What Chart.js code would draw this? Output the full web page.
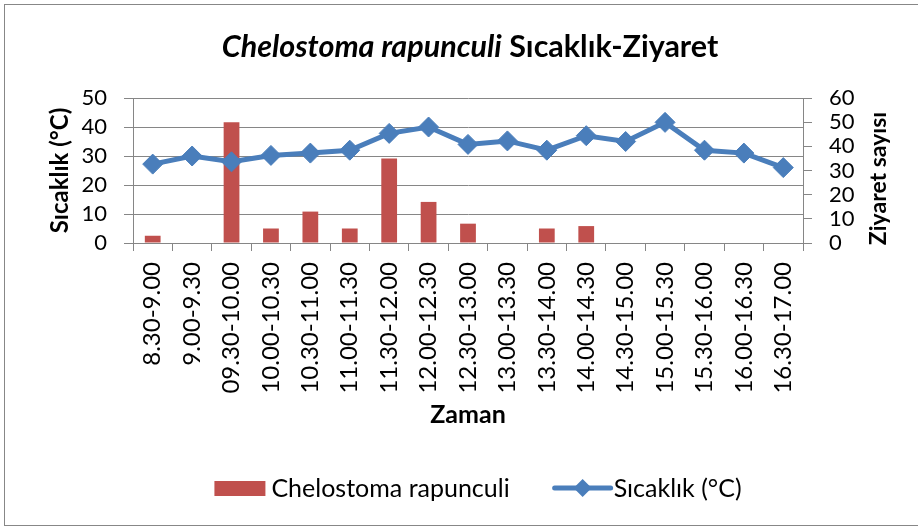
<!DOCTYPE html>
<html>
<head>
<meta charset="utf-8">
<script src="https://cdn.jsdelivr.net/npm/chart.js@4.4.1/dist/chart.umd.min.js"></script>
<style>
  html, body { margin: 0; padding: 0; background: #fff; }
  #wrap { position: relative; width: 918px; height: 531px; overflow: hidden; }
  #frame { position: absolute; left: 4px; top: 4px; width: 940px; height: 522px; border: 1px solid #878787; box-sizing: border-box; }
  #myChart { position: absolute; left: 0; top: 0; }
</style>
</head>
<body>
<div id="wrap">
  <div id="frame"></div>
  <canvas id="myChart" width="918" height="531"></canvas>
</div>
<script>
// zaman aralıkları
const categories = ['8.30-9.00', '9.00-9.30', '09.30-10.00', '10.00-10.30', '10.30-11.00', '11.00-11.30',
  '11.30-12.00', '12.00-12.30', '12.30-13.00', '13.00-13.30', '13.30-14.00', '14.00-14.30',
  '14.30-15.00', '15.00-15.30', '15.30-16.00', '16.00-16.30', '16.30-17.00'];
// ziyaret sayısı (sağ eksen)
const visits = [3, 0, 50, 6, 13, 6, 35, 17, 8, 0, 6, 7, 0, 0, 0, 0, 0];
// sıcaklık °C (sol eksen)
const temps = [27.2, 30, 28, 30.2, 31, 32, 37.8, 40, 34, 35.2, 32, 37, 35, 41.6, 32, 31, 26];

const leftTicks = [0, 10, 20, 30, 40, 50];
const rightTicks = [0, 10, 20, 30, 40, 50, 60];

const FONT = 'Lato';
const GRID = '#868686';
const RED = '#c0504d';
const BLUE = '#4a7ebb';

// başlık, lejant ve sağ eksen başlığı
const extras = {
  id: 'extras',
  afterDraw(chart) {
    const ctx = chart.ctx;
    const area = chart.chartArea;
    const cx = (area.left + area.right) / 2;
    ctx.save();
    ctx.fillStyle = '#000';
    ctx.textBaseline = 'alphabetic';
    ctx.textAlign = 'left';

    // başlık
    const t1 = 'Chelostoma rapunculi';
    const t2 = ' Sıcaklık-Ziyaret';
    ctx.font = 'italic bold 30.5px ' + FONT;
    const w1 = ctx.measureText(t1).width;
    ctx.font = 'bold 30.5px ' + FONT;
    const w2 = ctx.measureText(t2).width;
    let x = cx + 2 - (w1 + w2) / 2;
    ctx.font = 'italic bold 30.5px ' + FONT;
    ctx.fillText(t1, x, 57);
    ctx.font = 'bold 30.5px ' + FONT;
    ctx.fillText(t2, x + w1, 57);

    // sağ eksen başlığı
    const y1 = chart.scales.y1;
    ctx.save();
    ctx.translate(879, (y1.top + y1.bottom) / 2 + 8);
    ctx.rotate(-Math.PI / 2);
    ctx.textAlign = 'center';
    ctx.textBaseline = 'middle';
    ctx.font = 'bold 23px ' + FONT;
    ctx.fillText('Ziyaret sayısı', 0, 0);
    ctx.restore();

    // lejant
    ctx.font = '25px ' + FONT;
    const l1 = chart.data.datasets[1].label;
    const l2 = chart.data.datasets[0].label;
    const lw1 = ctx.measureText(l1).width;
    const lw2 = ctx.measureText(l2).width;
    const total = 51 + 6 + lw1 + 45 + 56 + 3 + lw2;
    let lx = cx + 10 - total / 2;
    const ly = 488;
    ctx.fillStyle = RED;
    ctx.fillRect(lx, ly - 7, 51, 15);
    lx += 57;
    ctx.fillStyle = '#000';
    ctx.textBaseline = 'middle';
    ctx.fillText(l1, lx, ly + 1);
    lx += lw1 + 45;
    ctx.strokeStyle = BLUE;
    ctx.lineWidth = 5;
    ctx.lineCap = 'round';
    ctx.beginPath();
    ctx.moveTo(lx, ly);
    ctx.lineTo(lx + 56, ly);
    ctx.stroke();
    ctx.fillStyle = BLUE;
    ctx.beginPath();
    ctx.moveTo(lx + 28, ly - 9);
    ctx.lineTo(lx + 37, ly);
    ctx.lineTo(lx + 28, ly + 9);
    ctx.lineTo(lx + 19, ly);
    ctx.closePath();
    ctx.fill();
    lx += 59;
    ctx.fillStyle = '#000';
    ctx.fillText(l2, lx, ly + 1);
    ctx.restore();
  }
};

const ctx = document.getElementById('myChart');
new Chart(ctx, {
  type: 'bar',
  data: {
    labels: categories,
    datasets: [{
      type: 'line',
      label: 'Sıcaklık (°C)',
      data: temps,
      yAxisID: 'y',
      order: 0,
      borderColor: BLUE,
      backgroundColor: BLUE,
      borderWidth: 5,
      tension: 0,
      pointStyle: 'rectRot',
      pointRadius: 10,
      pointBorderWidth: 1,
      pointBackgroundColor: BLUE,
      pointBorderColor: BLUE
    }, {
      type: 'bar',
      label: 'Chelostoma rapunculi',
      data: visits,
      yAxisID: 'y1',
      order: 1,
      backgroundColor: RED,
      borderWidth: 0,
      barPercentage: 0.4,
      categoryPercentage: 1
    }]
  },
  options: {
    responsive: false,
    animation: false,
    layout: { padding: { left: 46, right: 0, top: 98, bottom: 101 } },
    plugins: {
      legend: { display: false },
      title: { display: false },
      tooltip: { enabled: false }
    },
    scales: {
      x: {
        offset: true,
        grid: { offset: true, drawOnChartArea: false, tickLength: 8, color: GRID },
        border: { color: GRID },
        ticks: {
          autoSkip: false, minRotation: 90, maxRotation: 90, padding: 11,
          color: '#000', font: { family: FONT, size: 24 }
        },
        title: {
          display: true, text: 'Zaman', color: '#000',
          font: { family: FONT, size: 25, weight: 'bold' }, padding: { top: 0, bottom: 0 }
        },
        afterFit(scale) { scale.height = 187; }
      },
      y: {
        position: 'left',
        min: 0, max: 50,
        afterBuildTicks(scale) { scale.ticks = leftTicks.map(v => ({ value: v })); },
        grid: { color: GRID, tickLength: 9 },
        border: { color: GRID },
        ticks: { autoSkip: false, padding: 17, color: '#000', font: { family: FONT, size: 22 } },
        title: {
          display: true, text: 'Sıcaklık (°C)', color: '#000',
          font: { family: FONT, size: 24, weight: 'bold' }, padding: { top: 0, bottom: 0 }
        },
        afterFit(scale) { scale.width = 87; }
      },
      y1: {
        position: 'right',
        min: 0, max: 60,
        afterBuildTicks(scale) { scale.ticks = rightTicks.map(v => ({ value: v })); },
        grid: { drawOnChartArea: false, color: GRID, tickLength: 9 },
        border: { color: GRID },
        ticks: { autoSkip: false, padding: 17, color: '#000', font: { family: FONT, size: 22 } },
        afterFit(scale) { scale.width = 115; }
      }
    }
  },
  plugins: [extras]
});
</script>
</body>
</html>
